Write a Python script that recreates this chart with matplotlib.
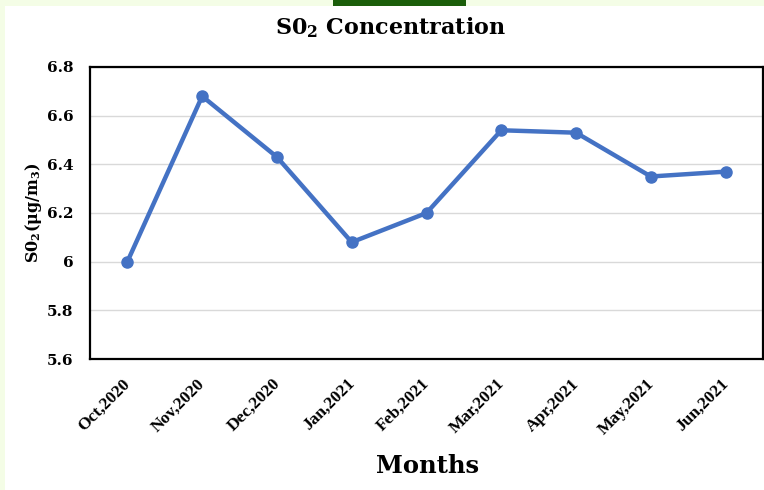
import matplotlib.pyplot as plt
from matplotlib.patches import Rectangle
from matplotlib.transforms import ScaledTranslation

meses = ["Oct,2020", "Nov,2020", "Dec,2020", "Jan,2021", "Feb,2021",
         "Mar,2021", "Apr,2021", "May,2021", "Jun,2021"]
so2 = [6.00, 6.68, 6.43, 6.08, 6.20, 6.54, 6.53, 6.35, 6.37]
yticks = [5.6, 5.8, 6.0, 6.2, 6.4, 6.6, 6.8]
ytick_labels = ["5.6", "5.8", "6", "6.2", "6.4", "6.6", "6.8"]

plt.rcParams["font.family"] = ["DejaVu Serif"]
plt.rcParams["mathtext.fontset"] = "custom"
plt.rcParams["mathtext.rm"] = "DejaVu Serif:bold"
plt.rcParams["mathtext.it"] = "DejaVu Serif:bold"
plt.rcParams["mathtext.bf"] = "DejaVu Serif:bold"

fig = plt.figure(figsize=(7.64, 4.90), dpi=100)
fig.patch.set_facecolor("white")
# bordas verde-claro e faixa verde no topo
verde_claro = "#f4fde6"
fig.patches.append(Rectangle((0, 0), 5 / 764, 1, transform=fig.transFigure,
                             facecolor=verde_claro, edgecolor="none"))
fig.patches.append(Rectangle((0, 1 - 6 / 490), 1, 6 / 490, transform=fig.transFigure,
                             facecolor=verde_claro, edgecolor="none"))
fig.patches.append(Rectangle((333 / 764, 1 - 6 / 490), 133 / 764, 6 / 490,
                             transform=fig.transFigure, facecolor="#1b5e0a",
                             edgecolor="none"))

ax = fig.add_axes([90 / 764, 1 - 359 / 490, 673 / 764, 292 / 490])
x = list(range(len(meses)))
ax.plot(x, so2, color="#4472c4", linewidth=3.2, marker="o", markersize=8,
        solid_joinstyle="round", zorder=3)

ax.set_xlim(-0.5, len(meses) - 0.5)
ax.set_ylim(5.6, 6.8)
ax.set_yticks(yticks)
ax.set_yticklabels(ytick_labels, fontsize=11, fontweight="bold")
ax.set_xticks(x)
ax.set_xticklabels(meses, rotation=45, ha="right", rotation_mode="anchor",
                   fontsize=12.5, fontweight="bold", family="Liberation Serif")
ax.tick_params(length=0)
ax.tick_params(axis="y", pad=12)
ax.tick_params(axis="x", pad=12)
desloc = ScaledTranslation(-5 / 100, 0, fig.dpi_scale_trans)
for lbl in ax.get_xticklabels():
    lbl.set_transform(lbl.get_transform() + desloc)
ax.grid(True, axis="y", color="#d9d9d9", linewidth=1)
for s in ax.spines.values():
    s.set_color("black")
    s.set_linewidth(1.6)

fig.text(0.511, 1 - 28 / 490, r"S0$_2$ Concentration", ha="center", va="center",
         fontsize=16, fontweight="bold")
fig.text(33 / 764, 1 - 213 / 490, r"S0$_2$(μg/m$_3$)", ha="center", va="center",
         rotation=90, fontsize=11.5, fontweight="bold")
fig.text(428 / 764, 1 - 466 / 490, "Months", ha="center", va="center",
         fontsize=17.5, fontweight="bold")

plt.savefig("out.png", dpi=100, facecolor=fig.get_facecolor())
